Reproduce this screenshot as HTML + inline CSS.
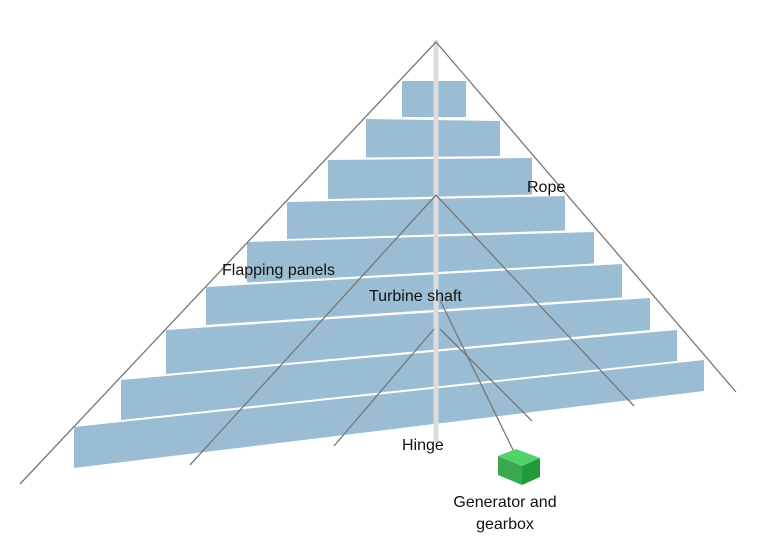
<!DOCTYPE html>
<html><head><style>body{margin:0;background:#fff}svg{display:block}text{font-family:"Liberation Sans",sans-serif;font-size:16px;fill:#111}</style></head><body>
<svg width="777" height="540" viewBox="0 0 777 540">
<g fill="#9bbdd3">
<polygon points="402,81 466,81 466,117 402,117"/>
<polygon points="366,119 500,121 500,156 366,157.5"/>
<polygon points="328,160 532,158 532,194.5 328,199"/>
<polygon points="287,202 565,196 565,230.5 287,239"/>
<polygon points="247,242 594,232 594,263.5 247,282.5"/>
<polygon points="206,287 622,264 622,297.5 206,325"/>
<polygon points="166,330 650,298 650,330 166,374"/>
<polygon points="121,380 677,330 677,361 121,420"/>
<polygon points="74,427 704,360 704,391 74,468"/>
</g>
<rect x="433.5" y="40" width="5" height="402" fill="#dcdcdc"/>
<g stroke="#777" stroke-width="1.3" fill="none">
<line x1="436" y1="42" x2="20" y2="484"/>
<line x1="436" y1="42" x2="736" y2="392"/>
<line x1="436" y1="195" x2="190" y2="465"/>
<line x1="436" y1="195" x2="634" y2="406"/>
<line x1="434" y1="329" x2="334" y2="446"/>
<line x1="440" y1="329" x2="532" y2="421"/>
<line x1="440" y1="300" x2="515" y2="454"/>
</g>
<polygon points="498,456 516,449 540,458 522,466" fill="#52d36a"/>
<polygon points="498,456 522,466 522,485 498,475" fill="#3aa84f"/>
<polygon points="522,466 540,458 540,477 522,485" fill="#239a3a"/>
<text x="527" y="192">Rope</text>
<text x="222" y="275">Flapping panels</text>
<text x="369" y="301">Turbine shaft</text>
<text x="402" y="450">Hinge</text>
<text x="505" y="507" text-anchor="middle">Generator and</text>
<text x="505" y="529" text-anchor="middle">gearbox</text>
</svg>
</body></html>
